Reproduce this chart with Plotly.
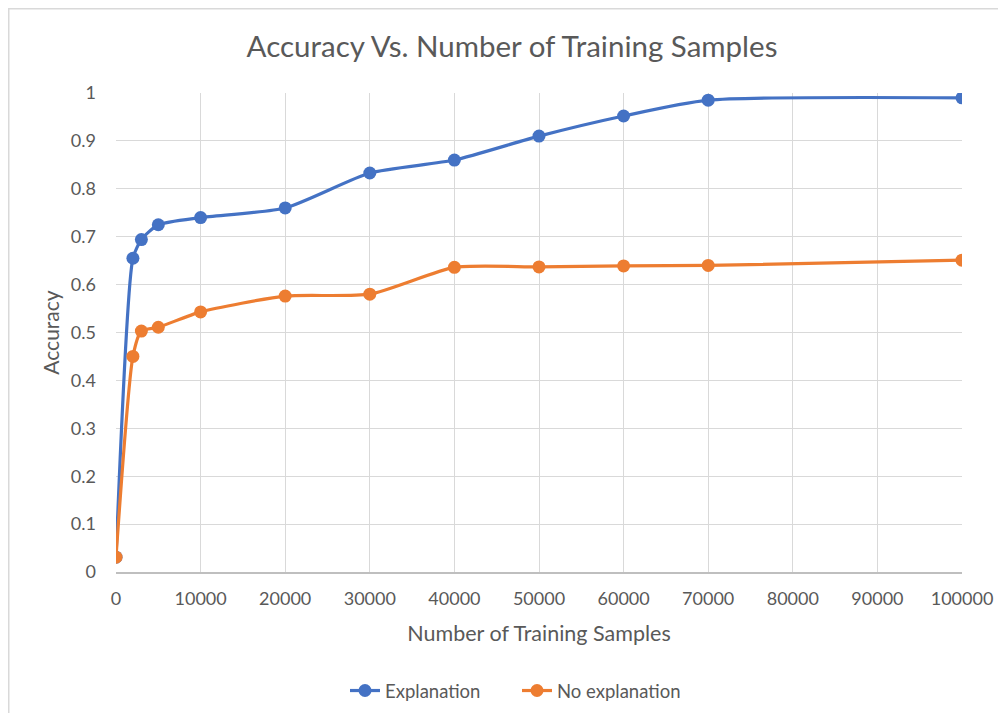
import plotly.graph_objects as go

samples = [0, 2000, 3000, 5000, 10000, 20000, 30000, 40000, 50000, 60000, 70000, 100000]
explanation = [0.031, 0.655, 0.694, 0.725, 0.740, 0.760, 0.833, 0.860, 0.910, 0.952, 0.985, 0.990]
no_explanation = [0.031, 0.450, 0.503, 0.511, 0.543, 0.576, 0.580, 0.636, 0.637, 0.639, 0.640, 0.651]
x_ticks = [0, 10000, 20000, 30000, 40000, 50000, 60000, 70000, 80000, 90000, 100000]
y_ticks = [0, 0.1, 0.2, 0.3, 0.4, 0.5, 0.6, 0.7, 0.8, 0.9, 1]

FONT = "Lato, 'Open Sans', sans-serif"
GRAY = "#595959"

fig = go.Figure()
fig.add_trace(go.Scatter(
    x=samples, y=explanation, name="Explanation", mode="lines+markers",
    line=dict(color="#4472C4", width=3.2, shape="spline", smoothing=0.6),
    marker=dict(size=13, color="#4472C4"),
))
fig.add_trace(go.Scatter(
    x=samples, y=no_explanation, name="No explanation", mode="lines+markers",
    line=dict(color="#ED7D31", width=3.2, shape="spline", smoothing=0.6),
    marker=dict(size=13, color="#ED7D31"),
))

# page body has an 8px offset; figure coordinates below are relative to the figure
W, H = 990, 705
PL, PR, PT, PB = 108, 954, 85, 564
pw, ph = PR - PL, PB - PT

fig.update_layout(
    width=W, height=H,
    margin=dict(l=PL, r=W - PR, t=PT, b=H - PB, autoexpand=False),
    paper_bgcolor="white", plot_bgcolor="white",
    font=dict(family=FONT, color=GRAY, size=18),
    title=dict(text="Accuracy Vs. Number of Training Samples", xref="paper",
               x=(504 - PL) / pw, xanchor="center",
               y=1 - 39 / H, yanchor="middle", font=dict(size=29.5, color=GRAY)),
    showlegend=True,
    legend=dict(orientation="h", x=(337 - PL) / pw, xanchor="left", y=(PB - 683) / ph, yanchor="middle",
                font=dict(size=18.5, color=GRAY), bgcolor="rgba(0,0,0,0)", entrywidth=127),
    xaxis=dict(
        range=[0, 100000], tickvals=x_ticks, ticktext=[str(v) for v in x_ticks],
        showgrid=True, gridcolor="#d9d9d9", gridwidth=1.3, automargin=False,
        showline=True, linecolor="#bfbfbf", linewidth=1.5, zeroline=False,
        ticks="", ticklabelstandoff=10, tickfont=dict(size=18, color=GRAY),
        title=dict(text="Number of Training Samples", font=dict(size=21.5, color=GRAY), standoff=18),
    ),
    yaxis=dict(
        range=[0, 1], tickvals=y_ticks, ticktext=[f"{v:g}" for v in y_ticks],
        showgrid=True, gridcolor="#d9d9d9", gridwidth=1.3, zeroline=False, automargin=False,
        showline=False, ticks="", ticklabelstandoff=19, tickfont=dict(size=18, color=GRAY),
        title=dict(text="Accuracy", font=dict(size=21, color=GRAY), standoff=5),
    ),
    shapes=[dict(type="rect", xref="paper", yref="paper",
                 x0=(0.75 - PL) / pw, x1=(W + 50 - PL) / pw,
                 y0=(PB - H - 50) / ph, y1=1 + (PT - 0.75) / ph,
                 line=dict(color="#d9d9d9", width=1.5), fillcolor="rgba(0,0,0,0)", layer="below")],
)

fig.write_html("out.html")
